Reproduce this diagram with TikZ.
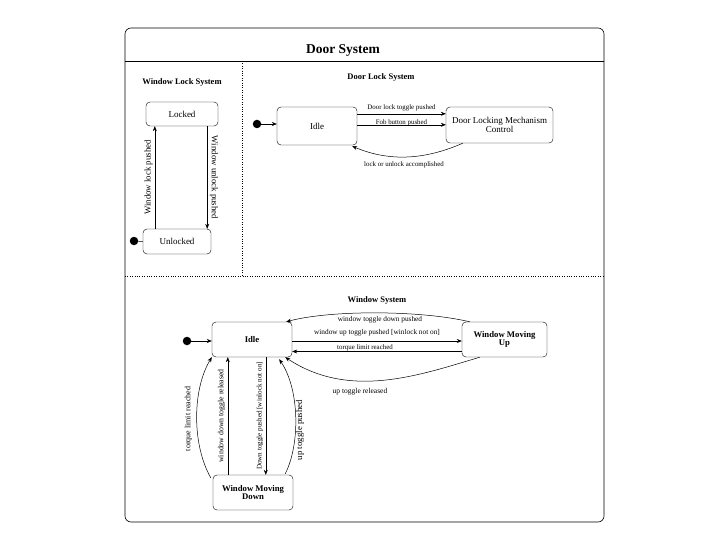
\documentclass[tikz,border=0pt]{standalone}
\usepackage{fontspec}
\setmainfont{Liberation Serif}
\usetikzlibrary{arrows.meta,calc}
\begin{document}
\begin{tikzpicture}[x=1pt,y=-1pt,
  state/.style={draw,rounded corners=4pt,align=center,inner sep=1pt,font=\fontsize{9}{9.5}\selectfont},
  bstate/.style={state,font=\bfseries\fontsize{8.7}{8.5}\selectfont},
  lbl/.style={font=\fontsize{6.9}{7}\selectfont,inner sep=1pt},
  vlbl/.style={font=\fontsize{8.8}{9}\selectfont,inner sep=1pt},
  sect/.style={font=\bfseries\fontsize{8.5}{9}\selectfont,inner sep=1pt},
  initdot/.style={circle,fill=black,minimum size=8.5pt,inner sep=0pt},
  arr/.style={-{Stealth[length=5pt,width=4pt]},line width=0.5pt},
  thin line/.style={line width=0.5pt}
]
\useasboundingbox (0,0) rectangle (720,540);
% outer frame
\draw[rounded corners=6pt,line width=0.6pt] (125,28) rectangle (604,522);
\coordinate (hl) at (125,61);
\coordinate (hr) at (604,61);
\draw[line width=0.6pt] (hl) -- (hr);
\node[font=\bfseries\fontsize{13.5}{13.5}\selectfont] (title) at (343,50.5) {Door System};
\coordinate (vt) at (242,61);
\coordinate (vb) at (242,276);
\coordinate (dl) at (125,276);
\coordinate (dr) at (604,276);
\draw[dotted] (vt) -- (vb);
\draw[dotted] (dl) -- (dr);

% Window Lock System
\node[sect] (wls) at (182,82) {Window Lock System};
\node[state,minimum width=72pt,minimum height=24pt] (locked) at (182,114) {Locked};
\node[state,minimum width=68pt,minimum height=25pt] (unlocked) at (177,241.5) {Unlocked};
\node[initdot] (i1) at (134,241) {};
\draw[thin line] (i1) -- (unlocked.west);
\draw[arr] ($(unlocked.north west)+(12,0)$) -- ($(locked.south west)+(9,0)$)
  node[vlbl,midway,rotate=90,above=1pt] {Window lock pushed};
\draw[arr] ($(locked.south east)+(-11,0)$) -- ($(unlocked.north east)+(-4,0)$)
  node[vlbl,midway,rotate=-90,above=1.5pt] {Window unlock pushed};

% Door Lock System
\node[sect] (dls) at (381,77) {Door Lock System};
\node[state,minimum width=80pt,minimum height=38pt] (idle1) at (317,126) {Idle};
\node[state,minimum width=107pt,minimum height=36pt] (dlmc) at (499.5,125) {Door Locking Mechanism\\Control};
\node[initdot] (i2) at (257,124) {};
\draw[arr] (i2) -- (idle1.west |- i2);
\draw[arr] ($(idle1.north east)+(0,7)$) -- ($(dlmc.north west)+(0,7)$)
  node[lbl,midway,above=2pt] {Door lock toggle pushed};
\draw[arr] ($(idle1.north east)+(0,18)$) -- ($(dlmc.north west)+(0,18)$)
  node[lbl,midway,above=-2pt] {Fob button pushed};
\draw[arr] ($(dlmc.south west)+(17,0)$) .. controls (420,162) and (385,160) .. ($(idle1.south east)+(-5,1)$);
\node[lbl] (l1) at (404,165) {lock or unlock accomplished};

% Window System
\node[sect] (ws) at (377,300) {Window System};
\node[bstate,minimum width=80pt,minimum height=35pt] (idle2) at (252,339.5) {Idle};
\node[bstate,minimum width=85pt,minimum height=35pt] (wmu) at (504.5,339.5) {Window Moving\\Up};
\node[bstate,minimum width=80pt,minimum height=35pt] (wmd) at (253,492.5) {Window Moving\\Down};
\node[initdot] (i3) at (187,341) {};
\draw[arr] (i3) -- (idle2.west |- i3);

\draw[arr] ($(wmu.north west)+(8,0)$) .. controls (420,310) and (330,310) .. ($(idle2.north east)+(-6,0)$);
\node[lbl,font=\fontsize{7.3}{7}\selectfont] (l2) at (380,320) {window toggle down pushed};
\draw[arr] ($(idle2.east)+(0,1.5)$) -- ($(wmu.west)+(0,1.5)$)
  node[lbl,midway,above=3.5pt,font=\fontsize{7.3}{7}\selectfont] {window up toggle pushed [winlock not on]};
\draw[arr] ($(wmu.west)+(0,12)$) -- ($(idle2.east)+(0,12)$);
\node[lbl] (l3) at (365,347.5) {torque limit reached};
\draw[arr] ($(wmu.south west)+(18,0)$) .. controls (420,375) and (350,400) .. ($(idle2.south east)+(-7,0)$);
\node[lbl,font=\fontsize{7.5}{7}\selectfont] (l4) at (360,391.5) {up toggle released};

% vertical transitions
\draw[arr] ($(wmd.north west)+(-2,3)$) .. controls (192,445) and (192,390) .. ($(idle2.south west)+(0,0)$);
\node[vlbl,rotate=90,font=\fontsize{8}{8}\selectfont] (l5) at (188.5,419) {torque limit reached};
\draw[arr] ($(wmd.north west)+(15,0)$) -- ($(idle2.south west)+(16,0)$)
  node[vlbl,midway,rotate=90,above=1.5pt,font=\fontsize{7.8}{8}\selectfont] {window down toggle released};
\draw[arr] ($(idle2.south west)+(54,0)$) -- ($(wmd.north west)+(53,0)$)
  node[lbl,midway,rotate=90,above=1.5pt,font=\fontsize{7.1}{7}\selectfont] {Down toggle pushed [winlock not on]};
\draw[arr] ($(wmd.north east)+(-8,-1)$) .. controls (300,445) and (300,390) .. ($(idle2.south east)+(-13,2)$);
\node[vlbl,rotate=90] (l6) at (300,430) {up toggle pushed};
\end{tikzpicture}
\end{document}
